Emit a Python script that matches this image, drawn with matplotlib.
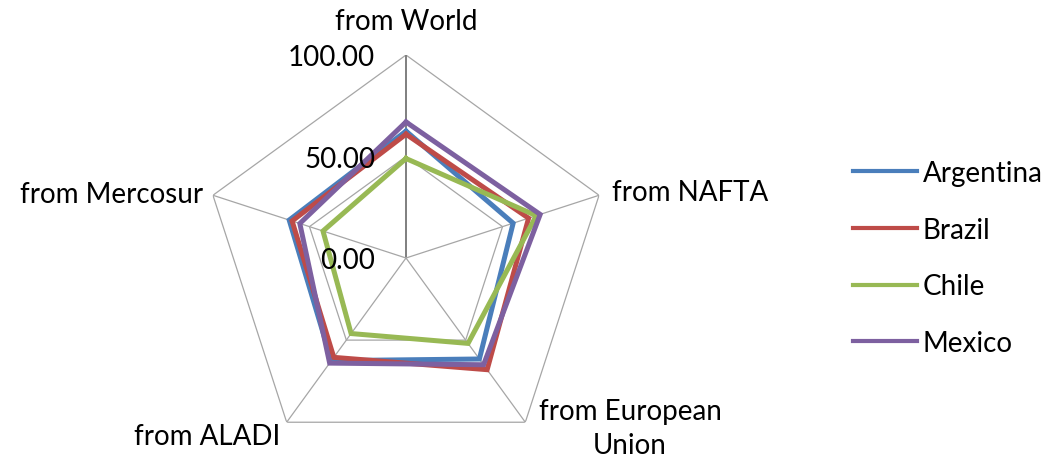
import numpy as np
import matplotlib
matplotlib.use('Agg')
import matplotlib.pyplot as plt

plt.rcParams['font.family'] = ['Lato', 'DejaVu Sans']

# data
categories = ['from World', 'from NAFTA', 'from European\nUnion', 'from ALADI', 'from Mercosur']
countries = ['Argentina', 'Brazil', 'Chile', 'Mexico']
argentina = [62.5, 55.5, 61.5, 62.5, 60.5]
brazil = [61.0, 63.5, 68.0, 60.5, 59.0]
chile = [49.0, 67.5, 52.0, 46.0, 43.0]
mexico = [67.0, 69.5, 65.0, 64.0, 55.0]
r_ticks = [0, 50, 100]
r_ticklabels = ['0.00', '50.00', '100.00']

colors = ['#4A7EBB', '#BE4B48', '#98B954', '#7D60A0']

W, H = 1053, 460
def fx(px): return px / W
def fy(py): return 1 - py / H

fig = plt.figure(figsize=(W / 100, H / 100), dpi=100)
cx, cy, R = 406, 259, 203
ax = fig.add_axes([fx(cx - R), fy(cy + R), 2 * R / W, 2 * R / H], polar=True)
ax.set_theta_offset(np.pi / 2)
ax.set_theta_direction(-1)
ax.set_ylim(0, 100)
ax.grid(False)
ax.spines['polar'].set_visible(False)
ax.set_xticks([])
ax.set_yticks([])
ax.patch.set_alpha(0)

n = len(categories)
theta = np.linspace(0, 2 * np.pi, n, endpoint=False)
theta_c = np.append(theta, theta[0])

# pentagon grid + spokes
for r in r_ticks[1:]:
    ax.plot(theta_c, [r] * (n + 1), color='#A6A6A6', lw=0.9, zorder=1)
for i, t in enumerate(theta):
    ax.plot([t, t], [0, 100], color='#7F7F7F' if i == 0 else '#A6A6A6',
            lw=1.4 if i == 0 else 0.9, zorder=1)

for name, vals, c in zip(countries, [argentina, brazil, chile, mexico], colors):
    v = list(vals) + [vals[0]]
    ax.plot(theta_c, v, color=c, lw=3.6, label=name, zorder=3,
            solid_joinstyle='miter')

# value axis labels
fs = 20
for r, lab in zip(r_ticks, r_ticklabels):
    fig.text(fx(375), fy(cy - r / 100 * R + 2), lab, ha='right', va='center', fontsize=fs)

# category labels
fig.text(fx(406), fy(22), categories[0], ha='center', va='center', fontsize=fs)
fig.text(fx(612), fy(193), categories[1], ha='left', va='center', fontsize=fs)
fig.text(fx(630), fy(429), categories[2], ha='center', va='center', fontsize=fs,
         linespacing=1.38)
fig.text(fx(280), fy(437), categories[3], ha='right', va='center', fontsize=fs)
fig.text(fx(203), fy(195), categories[4], ha='right', va='center', fontsize=fs)

leg = fig.legend(loc='center left', bbox_to_anchor=(fx(853), fy(259)),
                 frameon=False, fontsize=fs, handlelength=2.3, handletextpad=0.2,
                 labelspacing=1.1, borderpad=0, borderaxespad=0)
for h in leg.get_lines():
    h.set_linewidth(3)

fig.savefig('out.png', dpi=100)
